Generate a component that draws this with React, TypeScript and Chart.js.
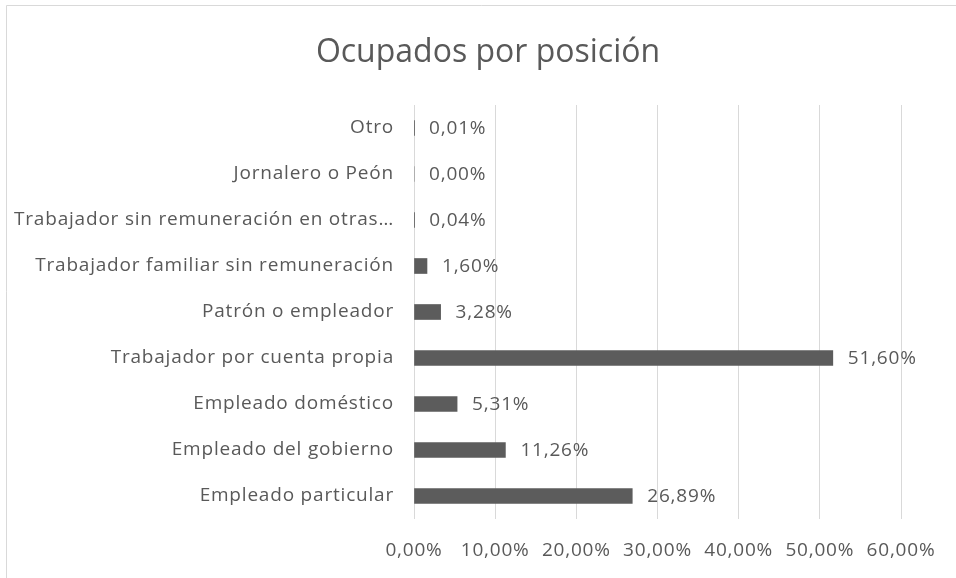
import React, { useEffect, useRef } from "react";
import { Chart, registerables } from "chart.js";

Chart.register(...registerables);

const TITLE = "Ocupados por posición";
const categories = [
  "Otro",
  "Jornalero o Peón",
  "Trabajador sin remuneración en otras…",
  "Trabajador familiar sin remuneración",
  "Patrón o empleador",
  "Trabajador por cuenta propia",
  "Empleado doméstico",
  "Empleado del gobierno",
  "Empleado particular",
];
const values = [0.01, 0.0, 0.04, 1.6, 3.28, 51.6, 5.31, 11.26, 26.89];
const xMin = 0;
const xMax = 60;
const xStep = 10;

const FONT = "'Open Sans', sans-serif";
const TEXT = "#595959";
const FS = 19;
const SPACING = "0.8px";

const fmt = (v: number) => v.toFixed(2).replace(".", ",") + "%";

const framePlugin = {
  id: "frame",
  beforeDraw(chart: any) {
    const ctx = chart.ctx;
    ctx.save();
    ctx.fillStyle = "#ffffff";
    ctx.fillRect(0, 0, chart.width, chart.height);
    ctx.strokeStyle = "#d9d9d9";
    ctx.lineWidth = 1;
    ctx.beginPath();
    ctx.moveTo(6.5, chart.height);
    ctx.lineTo(6.5, 5.5);
    ctx.lineTo(chart.width, 5.5);
    ctx.stroke();
    ctx.restore();
    (ctx as any).letterSpacing = SPACING;
  },
};

const labelPlugin = {
  id: "barLabels",
  afterDatasetsDraw(chart: any) {
    const ctx = chart.ctx;
    const meta = chart.getDatasetMeta(0);
    ctx.save();
    (ctx as any).letterSpacing = SPACING;
    ctx.font = `${FS}px ${FONT}`;
    ctx.fillStyle = TEXT;
    ctx.textAlign = "left";
    ctx.textBaseline = "middle";
    meta.data.forEach((bar: any, i: number) => {
      ctx.fillText(fmt(values[i]), bar.x + 15, bar.y + 1);
    });
    (ctx as any).letterSpacing = "0px";
    ctx.font = `32px ${FONT}`;
    ctx.textAlign = "center";
    ctx.textBaseline = "alphabetic";
    ctx.fillText(TITLE, 488, 62);
    ctx.restore();
  },
};

export default function App() {
  const ref = useRef<HTMLCanvasElement | null>(null);
  useEffect(() => {
    if (!ref.current) return;
    const chart = new Chart(ref.current, {
      type: "bar",
      data: {
        labels: categories,
        datasets: [
          {
            data: values,
            backgroundColor: "#5c5c5c",
            barThickness: 15,
          },
        ],
      },
      options: {
        indexAxis: "y",
        animation: false,
        responsive: false,
        maintainAspectRatio: false,
        layout: { padding: { left: 0, right: 55, top: 105, bottom: 0 } },
        plugins: {
          legend: { display: false },
          tooltip: { enabled: false },
          title: { display: false },
        },
        scales: {
          x: {
            min: xMin,
            max: xMax,
            ticks: {
              stepSize: xStep,
              color: TEXT,
              font: { family: FONT, size: FS },
              padding: 20,
              callback: (v: any) => fmt(Number(v)),
              maxRotation: 0,
            },
            grid: { color: "#d9d9d9", drawTicks: false, lineWidth: 1 },
            border: { display: false },
            afterFit(scale: any) {
              scale.height = 59;
            },
          },
          y: {
            ticks: {
              color: TEXT,
              font: { family: FONT, size: FS },
              padding: 20,
              autoSkip: false,
            },
            grid: { display: false, drawTicks: false },
            border: { display: false },
            afterFit(scale: any) {
              scale.width = 414;
            },
          },
        },
      },
      plugins: [framePlugin, labelPlugin],
    });
    return () => chart.destroy();
  }, []);
  return (
    <div style={{ position: "fixed", left: 0, top: 0, width: 956, height: 578 }}>
      <canvas ref={ref} width={956} height={578} style={{ width: 956, height: 578 }} />
    </div>
  );
}
